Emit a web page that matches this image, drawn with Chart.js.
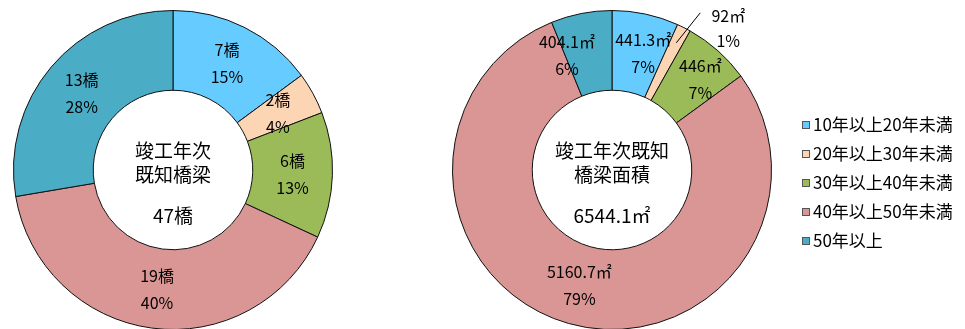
<!DOCTYPE html>
<html lang="ja">
<head>
<meta charset="utf-8">
<title>竣工年次既知橋梁</title>
<script src="https://cdn.jsdelivr.net/npm/chart.js@4/dist/chart.umd.min.js"></script>
<style>
  html, body { margin: 0; padding: 0; background: #fff; }
  body { width: 965px; height: 329px; position: relative; overflow: hidden; }
  .box { position: absolute; top: 0; height: 340px; }
  #leftBox { left: 0; width: 346px; }
  #rightBox { left: 440px; width: 525px; }
</style>
</head>
<body>
<div class="box" id="leftBox"><canvas id="countChart"></canvas></div>
<div class="box" id="rightBox"><canvas id="areaChart"></canvas></div>
<script>
const FONT = '"Noto Sans CJK JP", "Noto Sans", sans-serif';

const categories = ['10年以上20年未満', '20年以上30年未満', '30年以上40年未満', '40年以上50年未満', '50年以上'];
const colors = ['#66CCFF', '#FCD5B5', '#9BBB59', '#D99694', '#4BACC6'];

// 橋梁数（橋）
const bridgeCounts = [7, 2, 6, 19, 13];
// 橋梁面積（㎡）
const bridgeAreas = [441.3, 92, 446, 5160.7, 404.1];

const sum = arr => arr.reduce((a, b) => a + b, 0);
const pct = (v, arr) => Math.round(v / sum(arr) * 100) + '%';

// labels inside each ring segment, plus optional leader line for thin slices
const sliceLabels = {
  id: 'sliceLabels',
  afterDatasetsDraw(chart, args, opts) {
    const { ctx } = chart;
    const meta = chart.getDatasetMeta(0);
    const values = chart.data.datasets[0].data;
    ctx.save();
    ctx.font = `16px ${FONT}`;
    ctx.fillStyle = '#000';
    ctx.textAlign = 'center';
    ctx.textBaseline = 'middle';
    meta.data.forEach((arc, i) => {
      const lines = [opts.format(values[i]), pct(values[i], values)];
      const p = arc.getProps(['x', 'y', 'startAngle', 'endAngle', 'outerRadius'], true);
      if (opts.outside && opts.outside.includes(i)) {
        const mid = (p.startAngle + p.endAngle) / 2;
        const r = p.outerRadius - 17;
        const x0 = p.x + Math.cos(mid) * r;
        const y0 = p.y + Math.sin(mid) * r;
        const x1 = x0 + 24, y1 = y0 - 30;
        ctx.strokeStyle = '#000';
        ctx.lineWidth = 1;
        ctx.beginPath();
        ctx.moveTo(x0, y0);
        ctx.lineTo(x1, y1);
        ctx.stroke();
        ctx.fillText(lines[0], x1 + 28, y1 + 3);
        ctx.fillText(lines[1], x1 + 28, y1 + 28);
        return;
      }
      const pos = arc.tooltipPosition(true);
      const off = (opts.offsets && opts.offsets[i]) || [0, 0];
      ctx.fillText(lines[0], pos.x + off[0], pos.y + off[1] - 13);
      ctx.fillText(lines[1], pos.x + off[0], pos.y + off[1] + 14);
    });
    ctx.restore();
  }
};

const centerText = {
  id: 'centerText',
  afterDraw(chart, args, opts) {
    const { ctx } = chart;
    const arc = chart.getDatasetMeta(0).data[0];
    const cx = arc.x, cy = arc.y;
    ctx.save();
    ctx.font = `19px ${FONT}`;
    ctx.fillStyle = '#000';
    ctx.textAlign = 'center';
    ctx.textBaseline = 'middle';
    ctx.fillText(opts.lines[0], cx, cy - 19);
    ctx.fillText(opts.lines[1], cx, cy + 5);
    ctx.fillText(opts.lines[2], cx, cy + 46);
    ctx.restore();
  }
};

// legend drawn to the right of the area ring
const sideLegend = {
  id: 'sideLegend',
  afterDraw(chart, args, opts) {
    if (!opts.show) return;
    const { ctx, chartArea } = chart;
    const x = chartArea.right + 30;
    const cy = (chartArea.top + chartArea.bottom) / 2;
    ctx.save();
    ctx.font = `17px ${FONT}`;
    ctx.textAlign = 'left';
    ctx.textBaseline = 'middle';
    categories.forEach((c, i) => {
      const y = cy - 45 + i * 29;
      ctx.fillStyle = colors[i];
      ctx.fillRect(x, y - 4, 8, 8);
      ctx.strokeStyle = '#555';
      ctx.lineWidth = 1;
      ctx.strokeRect(x + 0.5, y - 3.5, 7, 7);
      ctx.fillStyle = '#000';
      ctx.fillText(c, x + 11, y);
    });
    ctx.restore();
  }
};

function makeRing(canvasId, values, padding, pluginOpts) {
  return new Chart(document.getElementById(canvasId), {
    type: 'doughnut',
    data: {
      labels: categories,
      datasets: [{
        data: values,
        backgroundColor: colors,
        borderColor: '#111',
        borderWidth: 1
      }]
    },
    options: {
      responsive: true,
      maintainAspectRatio: false,
      animation: false,
      events: [],
      cutout: '50%',
      layout: { padding },
      plugins: {
        legend: { display: false },
        tooltip: { enabled: false },
        ...pluginOpts
      }
    },
    plugins: [sliceLabels, centerText, sideLegend]
  });
}

makeRing('countChart', bridgeCounts, { left: 13, right: 13, top: 10, bottom: 10 }, {
  sliceLabels: { format: v => v + '橋' },
  centerText: { lines: ['竣工年次', '既知橋梁', sum(bridgeCounts) + '橋'] },
  sideLegend: { show: false }
});

makeRing('areaChart', bridgeAreas, { left: 12, right: 193, top: 10, bottom: 10 }, {
  sliceLabels: {
    format: v => v + '㎡',
    outside: [1],
    offsets: [[6, 0], null, [9, -2], [0, 0], [-22, 2]]
  },
  centerText: { lines: ['竣工年次既知', '橋梁面積', sum(bridgeAreas).toFixed(1) + '㎡'] },
  sideLegend: { show: true }
});
</script>
</body>
</html>
